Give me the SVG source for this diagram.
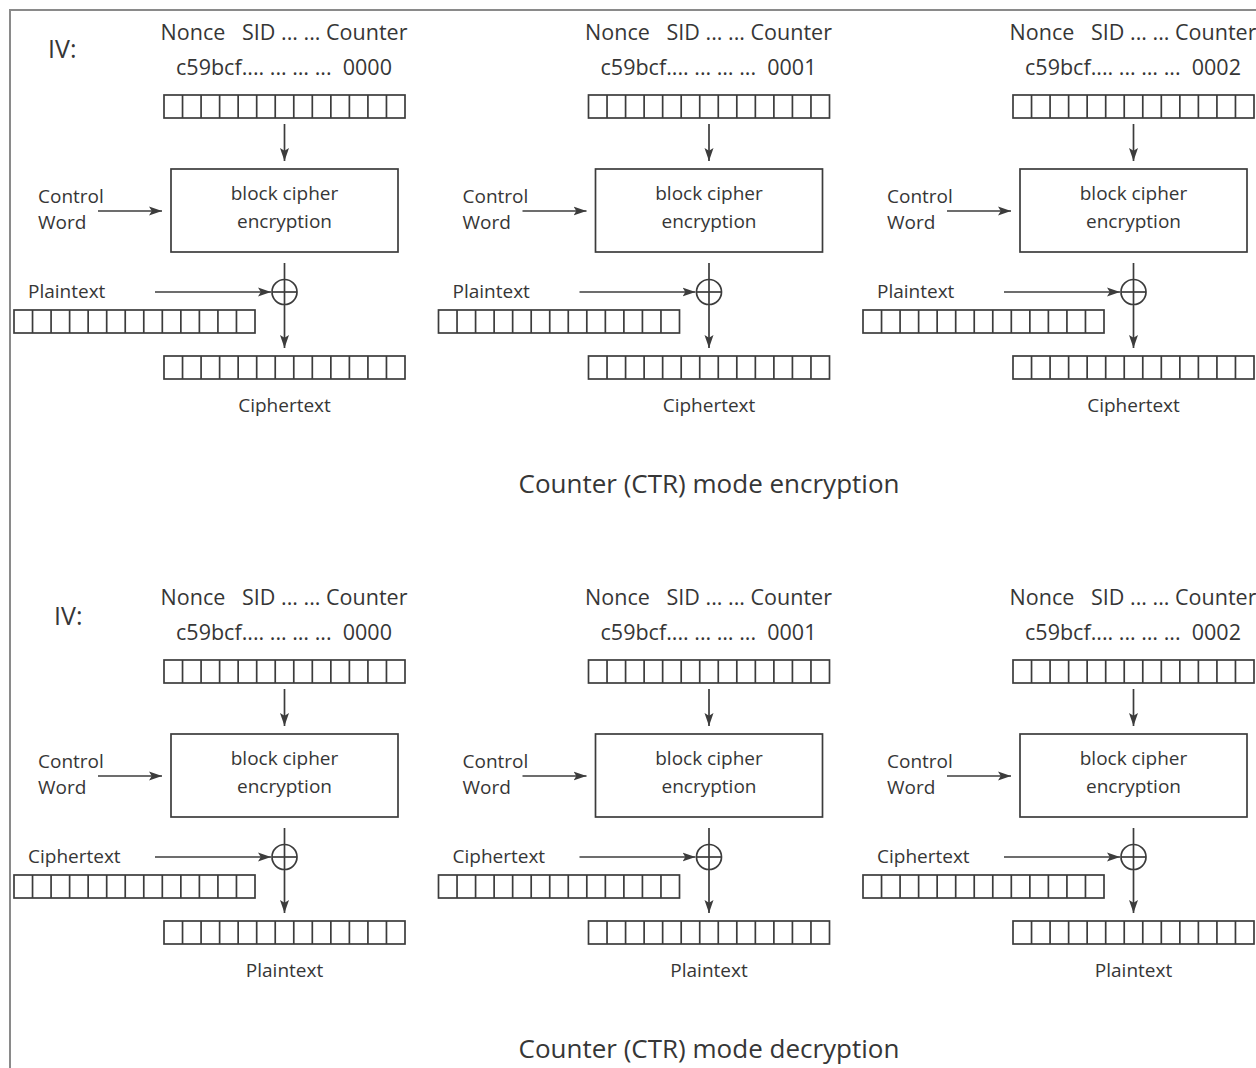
<svg xmlns="http://www.w3.org/2000/svg" xmlns:xlink="http://www.w3.org/1999/xlink" width="1256" height="1068" viewBox="0 0 1256 1068">
<style>
text{font-family:"Open Sans","Liberation Sans",sans-serif;fill:#363636;font-size:19px}
.c{text-anchor:middle}
.hdr{white-space:pre;text-anchor:middle;font-size:21.5px}
.iv{font-size:25px}
.title{font-size:26px;text-anchor:middle}
.box{fill:none;stroke:#3c3c3c;stroke-width:1.7}
.ln{fill:none;stroke:#3c3c3c;stroke-width:1.7}
.arr{fill:none;stroke:#3c3c3c;stroke-width:1.7;marker-end:url(#ah)}
.border{fill:none;stroke:#8a8a8a;stroke-width:2}
</style>
<defs>
<marker id="ah" viewBox="0 0 13 10" refX="13" refY="5" markerWidth="13" markerHeight="10" markerUnits="userSpaceOnUse" orient="auto">
<path d="M0,0.5 L13,5 L0,9.5 L2.8,5 Z" fill="#3c3c3c"/>
</marker>
<g id="cells">
<rect x="0" y="0" width="241" height="23" fill="#fff" stroke="#3c3c3c" stroke-width="1.7"/>
<path d="M18.54,0V23M37.08,0V23M55.62,0V23M74.15,0V23M92.69,0V23M111.23,0V23M129.77,0V23M148.31,0V23M166.85,0V23M185.38,0V23M203.92,0V23M222.46,0V23" stroke="#3c3c3c" stroke-width="1.7" fill="none"/>
</g>
</defs>
<rect width="1256" height="1068" fill="#fff"/>
<path class="border" d="M10,1068V10H1256"/>

<g id="encryption">
<text id="enc-iv-label" class="iv" x="48" y="58">IV:</text>
<text id="enc-title" class="title" x="709" y="493">Counter (CTR) mode encryption</text>

<g id="enc1">
<g id="enc1-iv"><text class="hdr" x="284" y="40" xml:space="preserve">Nonce   SID ... ... Counter</text><text class="hdr" x="284" y="75" xml:space="preserve">c59bcf.... ... … ...  0000</text><use href="#cells" x="164" y="95"/></g>
<g id="enc1-cipher"><rect class="box" x="171" y="169" width="227" height="83"/><text class="c" x="284.5" y="200">block cipher</text><text class="c" x="284.5" y="228">encryption</text></g>
<g id="enc1-key"><text x="38" y="203">Control</text><text x="38" y="229">Word</text></g>
<g id="enc1-xor"><circle class="ln" cx="284.5" cy="292" r="12.5"/><path class="ln" d="M272,292H297"/></g>
<g id="enc1-in"><text x="28" y="298">Plaintext</text><use href="#cells" x="14" y="310"/></g>
<g id="enc1-out"><use href="#cells" x="164" y="356"/><text class="c" x="284.5" y="412">Ciphertext</text></g>
<g id="enc1-connectors"><path class="arr" d="M284.5,124V161"/><path class="arr" d="M98,211H162"/><path class="arr" d="M155,292H271"/><path class="arr" d="M284.5,263V348"/></g>
</g>

<g id="enc2" transform="translate(424.5,0)">
<g id="enc2-iv"><text class="hdr" x="284" y="40" xml:space="preserve">Nonce   SID ... ... Counter</text><text class="hdr" x="284" y="75" xml:space="preserve">c59bcf.... ... … ...  0001</text><use href="#cells" x="164" y="95"/></g>
<g id="enc2-cipher"><rect class="box" x="171" y="169" width="227" height="83"/><text class="c" x="284.5" y="200">block cipher</text><text class="c" x="284.5" y="228">encryption</text></g>
<g id="enc2-key"><text x="38" y="203">Control</text><text x="38" y="229">Word</text></g>
<g id="enc2-xor"><circle class="ln" cx="284.5" cy="292" r="12.5"/><path class="ln" d="M272,292H297"/></g>
<g id="enc2-in"><text x="28" y="298">Plaintext</text><use href="#cells" x="14" y="310"/></g>
<g id="enc2-out"><use href="#cells" x="164" y="356"/><text class="c" x="284.5" y="412">Ciphertext</text></g>
<g id="enc2-connectors"><path class="arr" d="M284.5,124V161"/><path class="arr" d="M98,211H162"/><path class="arr" d="M155,292H271"/><path class="arr" d="M284.5,263V348"/></g>
</g>

<g id="enc3" transform="translate(849,0)">
<g id="enc3-iv"><text class="hdr" x="284" y="40" xml:space="preserve">Nonce   SID ... ... Counter</text><text class="hdr" x="284" y="75" xml:space="preserve">c59bcf.... ... … ...  0002</text><use href="#cells" x="164" y="95"/></g>
<g id="enc3-cipher"><rect class="box" x="171" y="169" width="227" height="83"/><text class="c" x="284.5" y="200">block cipher</text><text class="c" x="284.5" y="228">encryption</text></g>
<g id="enc3-key"><text x="38" y="203">Control</text><text x="38" y="229">Word</text></g>
<g id="enc3-xor"><circle class="ln" cx="284.5" cy="292" r="12.5"/><path class="ln" d="M272,292H297"/></g>
<g id="enc3-in"><text x="28" y="298">Plaintext</text><use href="#cells" x="14" y="310"/></g>
<g id="enc3-out"><use href="#cells" x="164" y="356"/><text class="c" x="284.5" y="412">Ciphertext</text></g>
<g id="enc3-connectors"><path class="arr" d="M284.5,124V161"/><path class="arr" d="M98,211H162"/><path class="arr" d="M155,292H271"/><path class="arr" d="M284.5,263V348"/></g>
</g>
</g>

<g id="decryption" transform="translate(0,565)">
<text id="dec-iv-label" class="iv" x="54" y="60">IV:</text>
<text id="dec-title" class="title" x="709" y="493">Counter (CTR) mode decryption</text>

<g id="dec1">
<g id="dec1-iv"><text class="hdr" x="284" y="40" xml:space="preserve">Nonce   SID ... ... Counter</text><text class="hdr" x="284" y="75" xml:space="preserve">c59bcf.... ... … ...  0000</text><use href="#cells" x="164" y="95"/></g>
<g id="dec1-cipher"><rect class="box" x="171" y="169" width="227" height="83"/><text class="c" x="284.5" y="200">block cipher</text><text class="c" x="284.5" y="228">encryption</text></g>
<g id="dec1-key"><text x="38" y="203">Control</text><text x="38" y="229">Word</text></g>
<g id="dec1-xor"><circle class="ln" cx="284.5" cy="292" r="12.5"/><path class="ln" d="M272,292H297"/></g>
<g id="dec1-in"><text x="28" y="298">Ciphertext</text><use href="#cells" x="14" y="310"/></g>
<g id="dec1-out"><use href="#cells" x="164" y="356"/><text class="c" x="284.5" y="412">Plaintext</text></g>
<g id="dec1-connectors"><path class="arr" d="M284.5,124V161"/><path class="arr" d="M98,211H162"/><path class="arr" d="M155,292H271"/><path class="arr" d="M284.5,263V348"/></g>
</g>

<g id="dec2" transform="translate(424.5,0)">
<g id="dec2-iv"><text class="hdr" x="284" y="40" xml:space="preserve">Nonce   SID ... ... Counter</text><text class="hdr" x="284" y="75" xml:space="preserve">c59bcf.... ... … ...  0001</text><use href="#cells" x="164" y="95"/></g>
<g id="dec2-cipher"><rect class="box" x="171" y="169" width="227" height="83"/><text class="c" x="284.5" y="200">block cipher</text><text class="c" x="284.5" y="228">encryption</text></g>
<g id="dec2-key"><text x="38" y="203">Control</text><text x="38" y="229">Word</text></g>
<g id="dec2-xor"><circle class="ln" cx="284.5" cy="292" r="12.5"/><path class="ln" d="M272,292H297"/></g>
<g id="dec2-in"><text x="28" y="298">Ciphertext</text><use href="#cells" x="14" y="310"/></g>
<g id="dec2-out"><use href="#cells" x="164" y="356"/><text class="c" x="284.5" y="412">Plaintext</text></g>
<g id="dec2-connectors"><path class="arr" d="M284.5,124V161"/><path class="arr" d="M98,211H162"/><path class="arr" d="M155,292H271"/><path class="arr" d="M284.5,263V348"/></g>
</g>

<g id="dec3" transform="translate(849,0)">
<g id="dec3-iv"><text class="hdr" x="284" y="40" xml:space="preserve">Nonce   SID ... ... Counter</text><text class="hdr" x="284" y="75" xml:space="preserve">c59bcf.... ... … ...  0002</text><use href="#cells" x="164" y="95"/></g>
<g id="dec3-cipher"><rect class="box" x="171" y="169" width="227" height="83"/><text class="c" x="284.5" y="200">block cipher</text><text class="c" x="284.5" y="228">encryption</text></g>
<g id="dec3-key"><text x="38" y="203">Control</text><text x="38" y="229">Word</text></g>
<g id="dec3-xor"><circle class="ln" cx="284.5" cy="292" r="12.5"/><path class="ln" d="M272,292H297"/></g>
<g id="dec3-in"><text x="28" y="298">Ciphertext</text><use href="#cells" x="14" y="310"/></g>
<g id="dec3-out"><use href="#cells" x="164" y="356"/><text class="c" x="284.5" y="412">Plaintext</text></g>
<g id="dec3-connectors"><path class="arr" d="M284.5,124V161"/><path class="arr" d="M98,211H162"/><path class="arr" d="M155,292H271"/><path class="arr" d="M284.5,263V348"/></g>
</g>
</g>
</svg>
